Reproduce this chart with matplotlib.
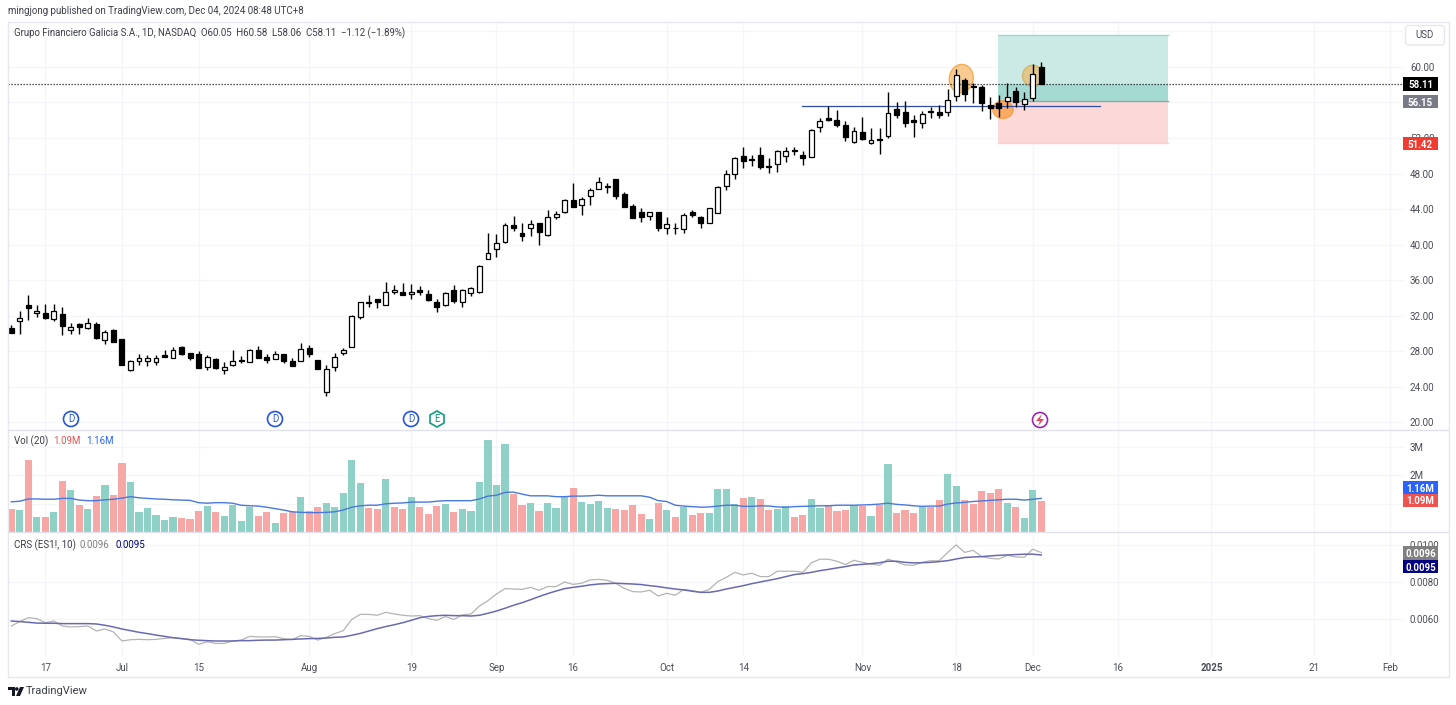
import numpy as np
import matplotlib
matplotlib.use("Agg")
import matplotlib.pyplot as plt
from matplotlib.patches import Ellipse, Rectangle, Circle, FancyBboxPatch, Polygon

# candles
opens = [30.63,31.42,33.15,32.32,32.32,31.65,32.13,30.33,31.08,30.60,
         31.08,29.28,30.37,29.39,25.86,26.91,26.84,26.76,27.52,27.25,
         28.49,27.74,27.67,26.24,27.07,25.90,26.46,26.91,26.80,28.08,
         27.33,27.14,27.63,26.84,26.91,28.38,26.95,23.38,26.24,27.78,
         28.49,31.87,33.44,33.82,33.18,34.68,34.65,34.38,34.87,34.46,
         33.56,33.22,34.91,33.56,34.50,34.61,38.33,39.53,40.24,42.16,
         41.26,41.82,42.38,41.03,43.06,43.62,45.01,44.41,45.46,46.25,
         46.52,47.34,45.65,44.34,43.62,43.21,43.66,41.82,41.82,41.71,
         43.63,43.10,42.46,43.55,46.56,47.91,49.94,49.53,50.09,48.70,
         49.08,50.00,50.50,50.13,49.90,53.21,54.22,54.03,53.43,51.55,
         52.68,51.40,51.85,52.27,55.23,54.93,54.03,53.73,54.93,54.93,
         54.97,56.70,58.50,57.86,57.71,55.72,55.91,56.14,57.26,55.80,
         56.55,60.05]
highs = [30.93,32.55,34.31,33.19,33.30,33.26,32.92,31.20,31.12,31.68,
         31.31,30.33,30.52,29.39,26.99,27.67,27.52,27.59,28.12,28.42,
         28.57,27.78,27.97,27.55,27.25,26.76,28.08,27.44,28.19,28.53,
         27.67,28.00,27.67,27.25,28.87,28.72,26.99,26.43,27.74,28.38,
         32.06,33.56,34.27,33.82,35.81,35.44,35.62,35.51,35.32,34.87,
         33.82,34.65,35.40,34.95,35.25,37.65,41.26,41.18,42.46,43.17,
         42.38,42.76,42.46,43.85,43.81,45.09,46.89,45.39,46.40,47.60,
         46.89,47.38,45.88,44.56,44.07,43.70,43.70,43.13,42.38,43.59,
         43.89,43.22,44.15,46.60,48.40,49.83,50.95,50.09,51.03,49.71,
         50.65,51.03,51.03,50.58,53.06,54.30,55.57,55.16,53.96,53.21,
         54.41,53.09,53.09,57.15,56.02,56.14,54.60,55.01,55.54,55.76,
         57.53,59.78,58.73,58.16,57.98,56.66,56.89,58.16,57.71,57.23,
         60.34,60.58]
lows = [29.99,29.88,31.50,31.87,31.57,31.42,29.77,29.88,29.88,30.52,
        29.39,28.79,29.02,26.39,25.79,26.39,26.31,26.46,27.37,27.25,
        27.59,27.03,26.13,25.86,25.94,25.45,26.35,26.61,26.80,27.25,
        26.65,27.10,26.65,26.28,26.91,27.33,25.94,22.93,25.79,27.55,
        28.42,31.57,33.00,32.81,33.14,34.42,34.27,33.86,34.27,33.67,
        32.43,33.07,33.44,32.99,34.23,34.57,38.33,38.59,40.21,41.56,
        40.43,40.96,39.94,40.99,42.83,43.59,44.26,43.29,44.49,46.21,
        45.76,45.09,44.26,43.02,42.57,42.76,41.52,41.18,41.14,41.29,
        43.14,41.86,42.43,43.52,46.15,47.42,48.66,48.85,48.47,48.02,
        48.21,49.34,50.13,48.93,49.86,52.72,53.96,53.21,51.67,51.40,
        51.78,51.37,50.16,52.04,54.30,53.21,52.12,53.09,54.26,54.22,
        54.52,56.17,56.17,55.91,55.08,54.18,54.41,55.38,55.53,55.16,
        56.14,58.06]
closes = [29.99,31.68,32.85,32.55,31.76,32.47,30.78,30.67,30.74,31.16,
          29.43,30.18,29.06,26.39,26.84,27.18,27.18,27.25,27.37,28.12,
          27.63,27.25,26.13,27.33,26.09,26.24,26.84,26.99,28.12,27.25,
          26.95,27.67,26.84,26.31,28.27,27.67,25.94,25.94,27.37,28.08,
          31.98,33.48,33.56,33.52,34.61,34.87,34.31,34.61,34.61,33.71,
          32.99,34.57,33.59,34.83,35.10,37.61,39.08,40.17,42.16,41.82,
          40.96,42.31,41.41,43.06,43.40,45.01,44.26,45.09,46.10,47.08,
          46.59,45.50,44.26,43.02,43.13,43.66,41.90,42.35,41.90,43.32,
          43.33,42.39,44.08,46.52,47.91,49.75,49.38,49.64,48.77,48.85,
          50.58,50.54,50.65,49.75,52.87,53.88,54.03,53.51,52.15,52.76,
          51.85,51.74,51.74,54.86,54.63,53.73,53.77,54.67,55.05,54.63,
          56.29,59.14,57.00,57.71,55.91,55.38,55.42,56.62,56.10,56.36,
          59.23,58.11]

# volume in millions, g = up bar, r = down bar
volumes = [.80,.77,2.53,.51,.51,.70,1.78,1.46,.96,.80,
           1.26,1.64,1.29,2.41,1.74,.70,.83,.60,.41,.51,
           .48,.46,.74,.91,.70,.56,.96,.39,.89,.56,
           .69,.32,.65,.70,1.22,.74,.87,1.02,.87,1.38,
           2.53,1.72,.84,.80,1.85,.89,.82,1.24,.87,.63,
           .91,.98,.70,.80,.74,1.74,3.23,1.64,3.09,1.32,
           .96,1.02,.74,1.02,.85,1.24,1.54,1.05,.97,1.10,
           .85,.82,.77,.94,.63,.46,1.02,.77,.51,.89,
           .60,.65,.65,1.52,1.52,.98,1.18,1.22,1.15,.77,
           .80,.92,.51,.58,1.15,.83,.96,.73,.77,.94,
           .91,.55,.96,2.39,.68,.77,.65,.91,.87,1.12,
           2.05,1.61,1.12,.98,1.43,1.37,1.51,1.02,.87,.48,
           1.46,1.10]
vol_dirs = "rgrgrgrgrg" "rgrrgggggg" "rrrgrggggr" "rgrrgrrggg" "ggrrgrrgrr" \
           "rgrggggggr" "rgrgggrggg" "grrrrgrgrg" "rrggggrgrr" "ggrrggrrrg" \
           "rgrgrrrgrr" "ggrrrrrgrg" "gr"
vol_ma = [1.06,1.08,1.16,1.16,1.15,1.15,1.18,1.18,1.12,1.10,
          1.10,1.13,1.15,1.19,1.24,1.20,1.18,1.16,1.15,1.13,
          1.12,1.11,1.03,1.01,1.03,1.03,1.01,.94,.92,.91,
          .87,.82,.77,.71,.69,.68,.68,.69,.71,.77,
          .87,.92,.94,.94,.99,1.01,1.02,1.05,1.05,1.05,
          1.08,1.10,1.10,1.10,1.10,1.16,1.26,1.29,1.39,1.40,
          1.33,1.27,1.27,1.27,1.24,1.24,1.26,1.26,1.27,1.29,
          1.27,1.27,1.27,1.27,1.27,1.22,1.10,1.07,.94,.91,
          .89,.87,.88,.91,.94,.94,.90,.90,.92,.91,
          .88,.87,.89,.90,.91,.92,.92,.94,.94,.94,
          .95,.96,.98,1.01,.97,.95,.92,.90,.91,.91,
          .98,1.02,1.04,1.07,1.09,1.11,1.13,1.15,1.15,1.12,
          1.15,1.18]

# CRS lines, in thousandths
crs_gray = [5.62,5.86,6.07,6.02,5.80,5.89,5.62,5.57,5.59,5.62,
            5.35,5.46,5.30,4.81,4.88,4.90,4.88,4.90,4.95,4.99,
            4.94,4.90,4.63,4.77,4.68,4.68,4.81,4.86,5.06,5.03,
            5.03,5.04,4.94,4.88,5.10,5.06,4.86,5.01,5.21,5.37,
            5.98,6.25,6.25,6.20,6.36,6.27,6.20,6.16,6.18,6.02,
            5.93,6.13,5.98,6.22,6.27,6.70,6.99,7.35,7.64,7.62,
            7.60,7.71,7.55,7.75,7.75,8.00,7.87,7.93,8.11,8.14,
            8.09,7.93,7.66,7.48,7.46,7.55,7.24,7.39,7.28,7.60,
            7.53,7.44,7.60,8.02,8.25,8.52,8.38,8.47,8.29,8.29,
            8.58,8.58,8.58,8.52,9.04,9.23,9.23,9.12,8.94,9.17,
            9.06,8.97,8.90,9.23,9.08,8.92,8.90,9.06,9.15,9.14,
            9.59,10.0,9.60,9.71,9.37,9.28,9.24,9.44,9.35,9.33,
            9.77,9.59]
crs_avg = [5.89,5.86,5.82,5.78,5.77,5.77,5.75,5.75,5.75,5.75,
           5.73,5.66,5.57,5.46,5.37,5.28,5.21,5.13,5.06,4.99,
           4.94,4.88,4.85,4.83,4.81,4.81,4.81,4.83,4.83,4.85,
           4.86,4.86,4.88,4.90,4.92,4.94,4.95,4.97,5.01,5.03,
           5.12,5.22,5.35,5.48,5.59,5.69,5.80,5.93,6.07,6.14,
           6.18,6.20,6.18,6.18,6.16,6.20,6.31,6.43,6.58,6.74,
           6.88,7.04,7.21,7.37,7.51,7.64,7.71,7.77,7.84,7.89,
           7.91,7.93,7.91,7.89,7.86,7.80,7.75,7.68,7.62,7.57,
           7.50,7.44,7.44,7.51,7.62,7.71,7.80,7.91,8.00,8.09,
           8.18,8.29,8.40,8.45,8.52,8.61,8.68,8.76,8.83,8.92,
           8.95,8.99,9.04,9.12,9.12,9.06,9.03,9.04,9.06,9.10,
           9.15,9.24,9.32,9.35,9.37,9.41,9.44,9.46,9.48,9.50,
           9.50,9.46]

# time axis, bar number of each label
tick_bars = [4, 13, 22, 35, 47, 57, 66, 77, 86, 100, 111, 120, 130, 141, 153, 162]
tick_names = ["17", "Jul", "15", "Aug", "19", "Sep", "16", "Oct", "14", "Nov", "18", "Dec",
              "16", "2025", "21", "Feb"]

price_ticks = [20, 24, 28, 32, 36, 40, 44, 48, 52, 56, 60, 64]
last_price = 58.11
entry_price = 56.15
stop_price = 51.42
target_price = 63.6
level_price = 55.55

W, H = 1456, 705
GRID = "#f5f6f9"
TXT = "#4a4d57"
plt.rcParams["font.family"] = ["Roboto", "DejaVu Sans"]
plt.rcParams["font.size"] = 7

fig = plt.figure(figsize=(W / 100, H / 100), dpi=100, facecolor="white")


def pane(top, bottom):
    ax = fig.add_axes([8 / W, 1 - bottom / H, (1403 - 8) / W, (bottom - top) / H])
    for s in ax.spines.values():
        s.set_visible(False)
    ax.set_xlim(-0.388, 163.5)
    ax.set_xticks(tick_bars)
    ax.yaxis.tick_right()
    ax.tick_params(axis="both", length=0, colors=TXT, labelsize=7)
    ax.tick_params(axis="y", pad=5)
    ax.grid(True, color=GRID, lw=1)
    ax.set_axisbelow(True)
    return ax


ax = pane(22, 430)
ax_vol = pane(430, 532)
ax_crs = pane(532, 656)

x = np.arange(len(closes))
o = np.array(opens)
c = np.array(closes)

# main pane
ax.set_ylim(19.1, 65.07)
ax.set_yticks(price_ticks)
ax.set_yticklabels(["%.2f" % p if p != 64 else "" for p in price_ticks])
ax.tick_params(axis="x", labelbottom=False)

right_end = 135.9
left_end = 115.9
ax.add_patch(Rectangle((left_end, entry_price), right_end - left_end, target_price - entry_price,
                       fc="#cbeae5", ec="none", zorder=1))
ax.add_patch(Rectangle((left_end, entry_price), right_end - left_end, last_price - entry_price,
                       fc="#a5dad3", ec="none", zorder=1.1))
ax.add_patch(Rectangle((left_end, stop_price), right_end - left_end, entry_price - stop_price,
                       fc="#fdd8d8", ec="none", zorder=1))
ax.plot([left_end, right_end], [target_price, target_price], color="#9fd6ce", lw=1, zorder=1.2)
ax.plot([left_end, right_end], [entry_price, entry_price], color="#8fa8a6", lw=1, zorder=1.2)
ax.plot([left_end, right_end], [stop_price, stop_price], color="#fbd0d0", lw=1, zorder=1.2)

ax.add_patch(Ellipse((111.6, 58.7), 2.8, 3.2, angle=-12, fc="#f9c27f", ec="#f5a33c", alpha=0.85, lw=1, zorder=1.5))
ax.add_patch(Ellipse((116.5, 55.2), 2.4, 2.0, fc="#f9a04a", ec="#f59a3c", alpha=0.8, lw=1, zorder=1.5))
ax.add_patch(Ellipse((120, 59.0), 2.4, 2.4, fc="#f0b050", ec="#d0a040", alpha=0.6, lw=1, zorder=1.5))

ax.plot([92.9, 127.9], [level_price, level_price], color="#2f4fa6", lw=0.9, zorder=2)
ax.axhline(last_price, color="#222222", lw=0.9, ls=(0, (1, 1.4)), zorder=2)

ax.vlines(x, lows, highs, color="black", lw=1, zorder=3)
up = c >= o
ax.bar(x[up], (c - o)[up], bottom=o[up], width=0.58, fc="white", ec="black", lw=0.9, zorder=4)
ax.bar(x[~up], (c - o)[~up], bottom=o[~up], width=0.58, fc="black", ec="black", lw=0.9, zorder=4)

# volume pane, the 1M label sits behind the price tags in the original
ax_vol.set_ylim(0, 3.58)
ax_vol.set_yticks([1, 2, 3])
ax_vol.set_yticklabels(["", "2M", "3M"])
ax_vol.tick_params(axis="x", labelbottom=False)
bar_colors = ["#8fd0c7" if d == "g" else "#f7a8a6" for d in vol_dirs]
ax_vol.bar(x, volumes, width=0.84, color=bar_colors, zorder=2)
ax_vol.plot(x, vol_ma, color="#4a78dc", lw=1, zorder=3)

# CRS pane
ax_crs.set_ylim(0.0040, 0.0107)
ax_crs.set_yticks([0.0060, 0.0080, 0.0100])
ax_crs.set_yticklabels(["0.0060", "0.0080", "0.0100"])
ax_crs.set_xticklabels(tick_names)
ax_crs.tick_params(axis="x", pad=5)
ax_crs.get_xticklabels()[13].set_fontweight("bold")
ax_crs.plot(x, np.array(crs_gray) / 1000, color="#b4b4b4", lw=0.9, zorder=3)
ax_crs.plot(x, np.array(crs_avg) / 1000, color="#6a6ab0", lw=1.1, zorder=4)

# chrome drawn in page pixels on top of the panes
ov = fig.add_axes([0, 0, 1, 1], facecolor="none")
ov.set_xlim(0, W)
ov.set_ylim(H, 0)
ov.axis("off")

ov.add_patch(Rectangle((7.5, 22), 1441, 655, fc="none", ec="#e6e8ee", lw=1))
ov.plot([8, 1448], [430, 430], color="#dfe2e8", lw=1)
ov.plot([8, 1448], [532, 532], color="#dfe2e8", lw=1)

ov.text(8, 11, "mingjong published on TradingView.com, Dec 04, 2024 08:48 UTC+8",
        color="#3c3f48", fontsize=7, va="center")
ov.text(14, 33, "Grupo Financiero Galicia S.A., 1D, NASDAQ  O60.05  H60.58  L58.06  C58.11  \u22121.12 (\u22121.89%)",
        color="#3c3f48", fontsize=6.9, va="center")
ov.text(14, 441, "Vol (20)", color="#3c3f48", fontsize=7, va="center")
ov.text(53, 441, "1.09M", color="#ef5350", fontsize=7, va="center")
ov.text(86, 441, "1.16M", color="#2962ff", fontsize=7, va="center")
ov.text(14, 545, "CRS (ES1!, 10)", color="#3c3f48", fontsize=7, va="center")
ov.text(80, 545, "0.0096", color="#808080", fontsize=7, va="center")
ov.text(115, 545, "0.0095", color="#000080", fontsize=7, va="center")


def price_tag(yc, txt, bg, fg="white"):
    ov.add_patch(Rectangle((1403, yc - 6.7), 35, 13.4, fc=bg, ec="none", zorder=5))
    ov.text(1420.5, yc, txt, color=fg, fontsize=7, fontweight="bold", ha="center", va="center_baseline", zorder=6)


price_tag(84, "58.11", "#000000")
price_tag(101.5, "56.15", "#787b86")
price_tag(143.5, "51.42", "#f23a30")
price_tag(487.5, "1.16M", "#2962ff")
price_tag(500.5, "1.09M", "#ef5350")
price_tag(553, "0.0096", "#808080")
price_tag(566.7, "0.0095", "#000080")

ov.add_patch(FancyBboxPatch((1405.5, 25.5), 39, 19.5, boxstyle="round,pad=0,rounding_size=3",
                            fc="white", ec="#e6e8ee", lw=1))
ov.text(1425, 35.5, "USD", color=TXT, fontsize=7, ha="center", va="center")

# event markers above the time axis
for px in [71, 275, 411]:
    ov.add_patch(Circle((px, 419), 7.5, fc="white", ec="#2457d6", lw=1.2))
    ov.text(px, 419.3, "D", color="#2457d6", fontsize=7, ha="center", va="center")
ov.add_patch(Polygon([(437, 411), (444, 415), (444, 423), (437, 427), (430, 423), (430, 415)],
                     fc="white", ec="#119b80", lw=1.2))
ov.text(437, 419.3, "E", color="#119b80", fontsize=7, ha="center", va="center")
ov.add_patch(Circle((1040, 420), 7.5, fc="white", ec="#9c27b0", lw=1.2))
ov.add_patch(Polygon([(1042, 414), (1036, 421), (1040, 421), (1038, 426), (1044, 419), (1040, 419)],
                     fc="#e8455a", ec="none"))

# TradingView mark and name
ov.add_patch(Polygon([(8, 687), (15, 687), (15, 696), (12, 696), (12, 690), (8, 690)], fc="#131722", ec="none"))
ov.add_patch(Circle((16.8, 689), 1.8, fc="#131722", ec="none"))
ov.add_patch(Polygon([(20, 687), (24, 687), (20, 696), (16, 696)], fc="#131722", ec="none"))
ov.text(26, 691, "TradingView", color="#3c3f48", fontsize=8, va="center")

fig.savefig("out.png", dpi=100)
